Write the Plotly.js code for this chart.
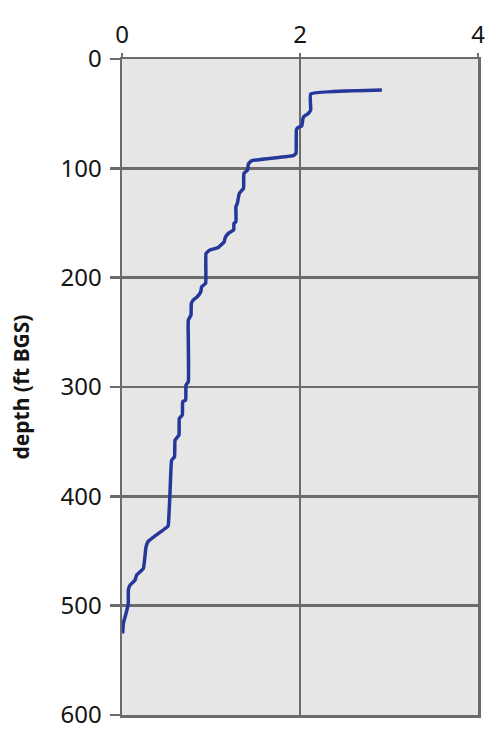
<!DOCTYPE html>
<html>
<head>
<meta charset="utf-8">
<script src="https://cdn.plot.ly/plotly-3.0.1.min.js"></script>
<style>html,body{margin:0;padding:0;background:#fff;}#chart{width:500px;height:735px;}</style>
</head>
<body>
<div id="chart"></div>
<script>
// value (x) read along the profile, top to bottom
var values = [2.92, 2.12, 2.12, 2.09, 2.04, 2.03, 2.02, 1.98, 1.96, 1.955, 1.925, 1.457, 1.42, 1.41, 1.37, 1.365, 1.318, 1.296, 1.28, 1.28, 1.258, 1.255, 1.195, 1.157, 1.15, 1.083, 0.989, 0.944, 0.94, 0.895, 0.885, 0.846, 0.80, 0.779, 0.775, 0.745, 0.745, 0.745, 0.719, 0.715, 0.682, 0.678, 0.644, 0.64, 0.596, 0.59, 0.558, 0.539, 0.52, 0.509, 0.296, 0.27, 0.24, 0.165, 0.146, 0.09, 0.071, 0.071, 0.045, 0.015, 0.007];
// depth (ft BGS)
var depths = [28.4, 32, 46.7, 50, 52.8, 55.8, 61.3, 62.5, 64.5, 86.3, 88.4, 93, 96, 101.6, 104.6, 118.3, 122.9, 132, 135, 148.8, 150.3, 156.4, 159.5, 164, 167, 172.3, 174.7, 177.8, 205.2, 208.3, 212.9, 217.5, 220.5, 223.6, 234.2, 238.8, 257, 295.2, 298.3, 312, 313.4, 325.7, 328.7, 344, 348.6, 363.9, 366.9, 397.4, 426.4, 427.9, 441, 446.2, 466, 472, 476.7, 481.2, 485.8, 498, 507.2, 516.3, 525.4];
var xTicks = [0, 2, 4];
var yTicks = [0, 100, 200, 300, 400, 500, 600];
var yTitle = 'depth (ft BGS)';

var gridCol = '#6b6b6b';
var trace = {
  x: values, y: depths, type: 'scatter', mode: 'lines',
  line: {color: '#26379b', width: 3.5, shape: 'spline', smoothing: 0.3},
  hoverinfo: 'skip'
};
var layout = {
  width: 500, height: 735,
  margin: {l: 122, r: 22, t: 59, b: 20},
  paper_bgcolor: '#ffffff', plot_bgcolor: '#e6e6e6',
  showlegend: false,
  font: {family: 'Noto Sans, Open Sans, sans-serif', color: '#141414'},
  xaxis: {
    side: 'top', range: [0, 4], tickvals: xTicks, ticktext: xTicks.map(String),
    showgrid: true, gridcolor: gridCol, gridwidth: 2.5, zeroline: false,
    showline: true, linecolor: gridCol, linewidth: 2.5, mirror: true,
    ticks: 'outside', ticklen: 4, tickcolor: gridCol, tickwidth: 2.5,
    tickfont: {size: 24}, ticklabelstandoff: 0, fixedrange: true
  },
  yaxis: {
    range: [600, 0], tickvals: yTicks, ticktext: yTicks.map(String),
    showgrid: true, gridcolor: gridCol, gridwidth: 2.5, zeroline: false,
    showline: true, linecolor: gridCol, linewidth: 2.5, mirror: true,
    ticks: 'outside', ticklen: 10, tickcolor: gridCol, tickwidth: 2.5,
    tickfont: {size: 24}, ticklabelstandoff: 3, fixedrange: true,
    title: {text: yTitle, font: {size: 21, weight: 'bold', color: '#141414'}, standoff: 25}
  }
};
Plotly.newPlot('chart', [trace], layout, {displayModeBar: false, staticPlot: true});
</script>
</body>
</html>
